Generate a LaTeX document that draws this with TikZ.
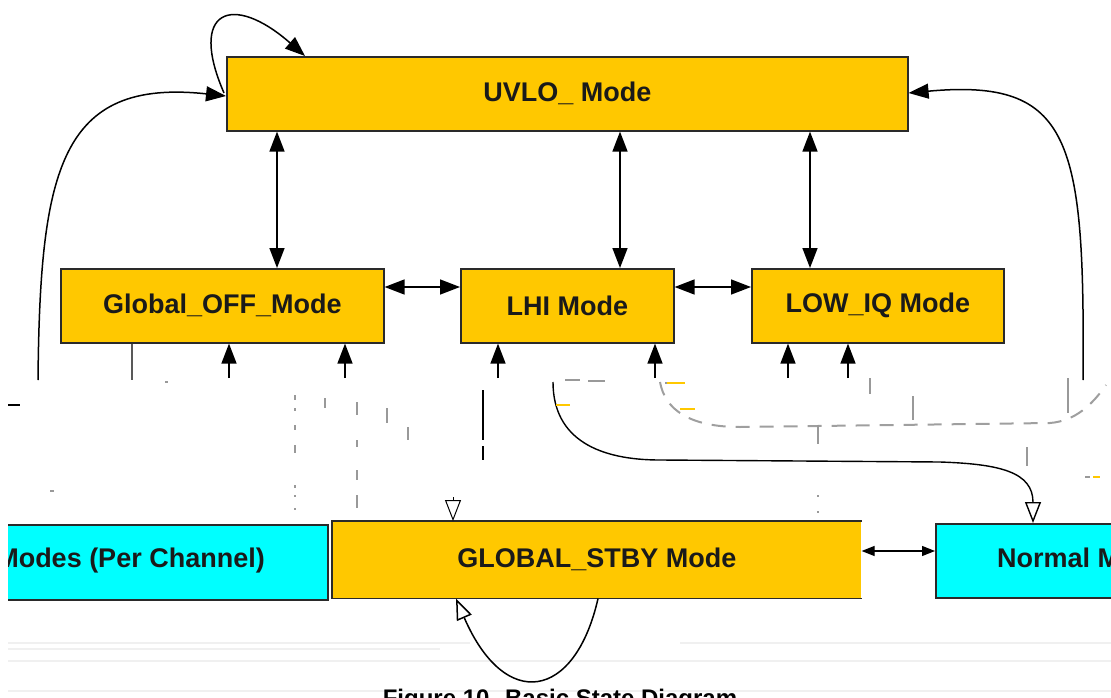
\documentclass[tikz,border=0pt]{standalone}
\usepackage{fontspec}
\setmainfont{Liberation Sans}
\usetikzlibrary{arrows.meta}
\definecolor{ygold}{HTML}{FFC800}
\definecolor{cyanbox}{HTML}{00FFFF}
\definecolor{edge}{HTML}{2A2A2A}
\definecolor{txt}{HTML}{1A1A1A}
\tikzset{
  ybox/.style={fill=ygold, draw=edge, line width=1.6pt, inner sep=0pt, anchor=north west,
    font=\fontsize{27}{32}\selectfont\bfseries, text=txt},
  cbox/.style={fill=cyanbox, draw=edge, line width=1.6pt, inner sep=0pt, anchor=north west},
  lbl/.style={font=\fontsize{27}{32}\selectfont\bfseries, text=txt, inner sep=0pt},
  conn/.style={line width=1.5pt, draw=black},
  ftip/.tip={Triangle[length=20pt,width=15pt]},
  ohead/.tip={Triangle[open,length=21pt,width=16pt]},
  shead/.tip={Triangle[length=13pt,width=10pt]},
  frag/.style={draw=gray!80, line width=2.2pt},
  faint/.style={draw=gray!12, line width=1.2pt},
}
\begin{document}
\begin{tikzpicture}[x=1pt,y=-1pt]
\useasboundingbox (0,0) rectangle (1111,698);
\begin{scope}
\clip (0,0) rectangle (1111,698);
% faint horizontal lines at bottom
\draw[faint] (8,643) -- (470,643);
\draw[faint] (680,643) -- (1111,643);
\draw[faint] (8,649) -- (440,649);
\draw[faint] (8,661) -- (1111,661);
\draw[faint] (8,691) -- (1111,691);

% boxes
\node[ybox, minimum width=681pt, minimum height=74pt] (uvlo) at (226,56) {UVLO\_ Mode};
\node[ybox, minimum width=323pt, minimum height=74pt] (goff) at (60,268) {Global\_OFF\_Mode};
\node[ybox, minimum width=213pt, minimum height=74pt] (lhi) at (460,268) {LHI Mode};
\node[ybox, minimum width=252pt, minimum height=74pt] (lowiq) at (751,268) {LOW\_IQ Mode};

\begin{scope}
\clip (8,0) rectangle (1111,698);
\node[cbox, minimum width=380pt, minimum height=75pt] (diag) at (-53,524) {};
\node[lbl, anchor=east] at (265,561) {Modes (Per Channel)};
\end{scope}

\node[ybox, draw=none, minimum width=528pt, minimum height=76pt] (stby) at (332,521) {GLOBAL\_STBY Mode};
\draw[edge, line width=1.6pt] (stby.north east) -- (stby.north west) -- (stby.south west) -- (stby.south east);

\node[cbox, minimum width=260pt, minimum height=74pt] (norm) at (935,523) {};
\node[lbl, anchor=west] at (997,558) {Normal Mode};

% vertical double arrows
\coordinate (xa) at (277,0);
\coordinate (xb) at (620,0);
\coordinate (xc) at (810,0);
\draw[conn, {ftip}-{ftip}] (xa |- uvlo.south) -- (xa |- goff.north);
\draw[conn, {ftip}-{ftip}] (xb |- uvlo.south) -- (xb |- lhi.north);
\draw[conn, {ftip}-{ftip}] (xc |- uvlo.south) -- (xc |- lowiq.north);

% horizontal double arrows
\coordinate (ya) at (0,287);
\draw[conn, {ftip}-{ftip}] (goff.east |- ya) -- (lhi.west |- ya);
\draw[conn, {ftip}-{ftip}] (lhi.east |- ya) -- (lowiq.west |- ya);

% self loop on UVLO
\coordinate (uloopstart) at (224,93);
\coordinate (uloopend) at (305,0);
\draw[conn, -{ftip}] (uloopstart) .. controls (188,10) and (232,-8) .. (uvlo.north west -| uloopend);
% left curve
\coordinate (lstart) at (38,380);
\coordinate (lend) at (0,96);
\draw[conn, -{ftip}] (lstart) .. controls (40,170) and (60,78) .. (uvlo.west |- lend);
% right curve
\coordinate (rstart) at (1083,380);
\coordinate (rend) at (0,93);
\draw[conn, -{ftip}] (rstart) .. controls (1085,140) and (1072,78) .. (uvlo.east |- rend);

% stubs below Global_OFF
\coordinate (s1) at (132,380);
\coordinate (s2) at (229,378);
\coordinate (s3) at (345,378);
\draw[conn, draw=gray!70!black] (goff.south -| s1) -- (s1);
\draw[conn, -{ftip}] (s2) -- (goff.south -| s2);
\draw[conn, -{ftip}] (s3) -- (goff.south -| s3);
% stubs below LHI
\coordinate (s4) at (498,378);
\coordinate (s5) at (655,378);
\draw[conn, -{ftip}] (s4) -- (lhi.south -| s4);
\draw[conn, -{ftip}] (s5) -- (lhi.south -| s5);
% stubs below LOW_IQ
\coordinate (s6) at (788,378);
\coordinate (s7) at (848,378);
\draw[conn, -{ftip}] (s6) -- (lowiq.south -| s6);
\draw[conn, -{ftip}] (s7) -- (lowiq.south -| s7);

% curve to Normal mode
\coordinate (cstart) at (553,382);
\coordinate (nx) at (1033,0);
\draw[conn, line width=1.4pt, -{ohead}] (cstart) .. controls (553,440) and (600,460) .. (660,460) -- (940,462) .. controls (1000,464) and (1033,472) .. (norm.north -| nx);

% dashed grey path
\coordinate (dstart) at (660,382);
\coordinate (dend) at (1106,385);
\draw[draw=gray!75, line width=2pt, dash pattern=on 14pt off 10pt] (dstart) .. controls (665,410) and (690,427) .. (740,427) -- (1050,423) .. controls (1075,421) and (1092,405) .. (dend);

% open arrow into GLOBAL_STBY
\coordinate (oa) at (453,497);
\draw[line width=1pt, -{ohead}] (oa) -- (stby.north -| oa);

% self loop on GLOBAL_STBY
\coordinate (bl1) at (598,0);
\coordinate (bl2) at (456,0);
\draw[conn, -{ohead}] (stby.south -| bl1) .. controls (575,700) and (505,712) .. (stby.south -| bl2);

% double arrow STBY <-> Normal
\coordinate (yb) at (0,551);
\draw[line width=1.2pt, {shead}-{shead}] (stby.east |- yb) -- (norm.west |- yb);

% line fragment
\coordinate (f1) at (483,390);
\coordinate (f2) at (483,460);
\draw[conn, line width=1.6pt] (f1) -- (483,440);
\draw[conn, line width=1.6pt] (483,446) -- (f2);

% scattered fragments
\draw[line width=2.5pt] (8,405) -- (20,405);
\draw[frag] (295,395) -- (295,400) (295,408) -- (295,411) (295,425) -- (295,430) (295,445) -- (295,453) (295,485) -- (295,488) (295,495) -- (295,497) (295,508) -- (295,510);
\draw[frag] (357,402) -- (357,415) (357,440) -- (357,447) (357,470) -- (357,480) (357,495) -- (357,508);
\draw[frag] (325,398) -- (325,408);
\draw[frag] (387,408) -- (387,423);
\draw[frag] (408,427) -- (408,440);
\draw[frag] (870,378) -- (870,394);
\draw[frag] (913,396) -- (913,420);
\draw[frag] (1068,378) -- (1068,413);
\draw[frag] (1027,447) -- (1027,466);
\draw[frag] (818,425) -- (818,444);
\draw[frag] (818,495) -- (818,497) (818,511) -- (818,513);
\draw[frag] (165,382) -- (168,382);
\draw[frag] (50,491) -- (54,491);
\draw[frag] (565,380) -- (580,380) (588,381) -- (605,381);
\draw[frag] (665,383) -- (680,383);
\draw[draw=ygold, line width=2pt] (556,405) -- (570,405) (667,383) -- (685,383) (680,409) -- (695,409);
\draw[frag] (1085,477) -- (1090,477);
\draw[draw=ygold, line width=2pt] (1093,477) -- (1100,477);
\end{scope}

% caption (partly cut off at the bottom)
\begin{scope}
\clip (0,0) rectangle (1111,698);
\node[font=\fontsize{24}{28}\selectfont\bfseries, text=black, anchor=base, inner sep=0pt] (cap) at (560,706) {Figure 10. Basic State Diagram};
\end{scope}
\end{tikzpicture}
\end{document}
